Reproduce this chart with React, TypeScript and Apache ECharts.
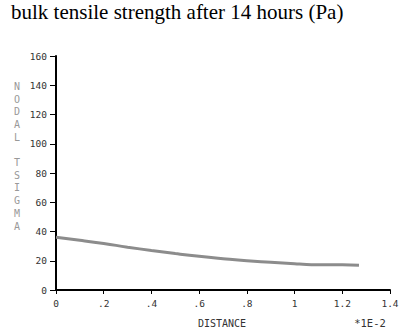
import React, { useEffect, useRef } from "react";
import * as echarts from "echarts";

const titleText = "bulk tensile strength after 14 hours (Pa)";
const distance = [0, 0.1, 0.2, 0.3, 0.4, 0.5, 0.6, 0.7, 0.8, 0.9, 1.0, 1.05, 1.1, 1.2, 1.27];
const tsigma = [36, 34, 31.8, 29.3, 27, 24.9, 23, 21.4, 20, 19, 18, 17.5, 17.3, 17.2, 17];
const yLabelLetters = ["N", "O", "D", "A", "L", "", "T", "S", "I", "G", "M", "A"];
const xName = "DISTANCE";
const xScale = "*1E-2";

export default function App() {
  const ref = useRef<HTMLDivElement>(null);
  useEffect(() => {
    const chart = echarts.init(ref.current!, null, { renderer: "svg" });
    const mono = "'DejaVu Sans Mono', monospace";
    chart.setOption({
      animation: false,
      backgroundColor: "#ffffff",
      title: {
        text: titleText,
        left: 6,
        top: -4,
        textStyle: { fontFamily: "'Liberation Serif', serif", fontSize: 21, fontWeight: "normal", color: "#000" },
      },
      grid: { left: 56, right: 19, top: 56, bottom: 42 },
      xAxis: {
        type: "value",
        min: 0,
        max: 1.4,
        interval: 0.2,
        axisLine: { onZero: false, lineStyle: { color: "#000", width: 2 } },
        axisTick: { show: true, length: 4, lineStyle: { color: "#000", width: 1 } },
        splitLine: { show: false },
        axisLabel: {
          fontFamily: mono,
          fontSize: 9.5,
          color: "#333",
          margin: 8,
          formatter: (v: number) => {
            const s = String(Math.round(v * 10) / 10);
            return s.startsWith("0.") ? s.slice(1) : s;
          },
        },
      },
      yAxis: {
        type: "value",
        min: 0,
        max: 160,
        interval: 20,
        axisLine: { show: true, lineStyle: { color: "#000", width: 2 } },
        axisTick: { show: true, length: 6, lineStyle: { color: "#000", width: 1 } },
        splitLine: { show: false },
        axisLabel: { fontFamily: mono, fontSize: 9.5, color: "#333", margin: 9 },
      },
      graphic: [
        {
          type: "text",
          x: 14,
          y: 80,
          style: {
            text: yLabelLetters.join("\n"),
            fontFamily: mono,
            fontSize: 10,
            lineHeight: 12.7,
            fill: "#999",
          },
        },
        {
          type: "text",
          x: 222,
          y: 323,
          style: {
            text: xName,
            fontFamily: mono,
            fontSize: 10,
            fill: "#333",
            align: "center",
            verticalAlign: "middle",
          },
        },
        {
          type: "text",
          x: 370,
          y: 323,
          style: {
            text: xScale,
            fontFamily: mono,
            fontSize: 10.5,
            fill: "#333",
            align: "center",
            verticalAlign: "middle",
          },
        },
      ],
      series: [
        {
          type: "line",
          data: distance.map((d, i) => [d, tsigma[i]]),
          showSymbol: false,
          smooth: true,
          lineStyle: { color: "#8c8c8c", width: 3 },
        },
      ],
    });
    return () => chart.dispose();
  }, []);
  return <div ref={ref} style={{ width: 409, height: 332, position: "absolute", left: 0, top: 0 }} />;
}
